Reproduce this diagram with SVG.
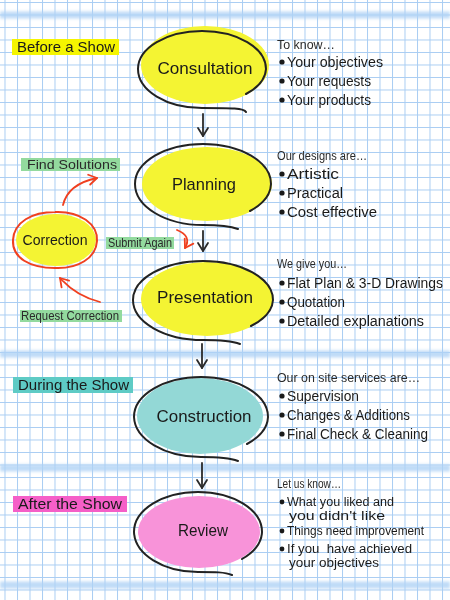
<svg xmlns="http://www.w3.org/2000/svg" width="450" height="600" viewBox="0 0 450 600">
<defs>
<pattern id="grid" width="12.5" height="12.5" patternUnits="userSpaceOnUse" x="4.5" y="2">
<path d="M0 0.5 H12.5 M0.5 0 V12.5" fill="none" stroke="#a9cdf3" stroke-width="1"/>
</pattern>
<filter id="blur" x="-5%" y="-100%" width="110%" height="300%"><feGaussianBlur stdDeviation="1.4"/></filter>
<marker id="bk" viewBox="-10 -7 12 14" markerWidth="12" markerHeight="14" refX="0" refY="0" orient="auto" markerUnits="userSpaceOnUse">
<path d="M-8 -5 L0 0 L-8 5" fill="none" stroke="#2a2a2a" stroke-width="1.8" stroke-linecap="round" stroke-linejoin="round"/>
</marker>
<marker id="rd" viewBox="-10 -7 12 14" markerWidth="12" markerHeight="14" refX="0" refY="0" orient="auto" markerUnits="userSpaceOnUse">
<path d="M-8 -5 L0 0 L-8 5" fill="none" stroke="#f04020" stroke-width="1.8" stroke-linecap="round" stroke-linejoin="round"/>
</marker>
</defs>
<style>
.t{font-family:"Liberation Sans",Arial,sans-serif;fill:#1a1a1a}
.nt{font-size:17px}
.hd{font-size:12px;fill:#2a2a2a}
.it{font-size:14px}
.sm{font-size:12.5px}
.lb{font-size:15px}
.gl{font-size:13px;fill:#2a2a2a}
.ol{fill:none;stroke:#222;stroke-width:2;stroke-linecap:round}
.yl{fill:#f4f433}
.band{stroke:#b0d2f6;stroke-width:7;opacity:0.8}
.bul{fill:#1a1a1a}
.ar{fill:none;stroke:#2a2a2a;stroke-width:1.8;stroke-linecap:round}
.ra{fill:none;stroke:#f04020;stroke-width:1.8;stroke-linecap:round}
</style>
<rect width="450" height="600" fill="#ffffff"/>
<rect width="450" height="600" fill="url(#grid)"/>
<g filter="url(#blur)">
<line class="band" x1="0" y1="15" x2="450" y2="15"/>
<line class="band" x1="0" y1="354" x2="450" y2="354"/>
<line class="band" x1="0" y1="468" x2="450" y2="468"/>
<line class="band" x1="0" y1="585" x2="450" y2="585"/>
</g>

<g id="label-before">
<rect x="12" y="39" width="107" height="16" fill="#f5f500"/>
<text class="t lb" x="17" y="52" textLength="98" lengthAdjust="spacingAndGlyphs">Before a Show</text>
</g>
<g id="label-during">
<rect x="13" y="377" width="120" height="16" fill="#5ecbc5"/>
<text class="t lb" x="18" y="390" textLength="111" lengthAdjust="spacingAndGlyphs">During the Show</text>
</g>
<g id="label-after">
<rect x="13" y="496" width="114" height="16" fill="#f55fc8"/>
<text class="t lb" x="18" y="509" textLength="104" lengthAdjust="spacingAndGlyphs">After the Show</text>
</g>

<g id="consultation">
<ellipse class="yl" cx="205" cy="65" rx="64" ry="39"/>
<path class="ol" d="M246 112 C244 108 232 108 202 108 A64 39 0 0 1 138 69 A64 38 0 0 1 266 69 A62 36 0 0 1 246 94"/>
<text class="t nt" x="205" y="74" text-anchor="middle" textLength="95" lengthAdjust="spacingAndGlyphs">Consultation</text>
</g>
<g id="planning">
<ellipse class="yl" cx="207" cy="184" rx="65" ry="37"/>
<path class="ol" d="M238 229 C230 226 220 225 203 225 A68 41 0 0 1 135 184 A68 40 0 0 1 271 184 A66 38 0 0 1 250 211"/>
<text class="t nt" x="204" y="190" text-anchor="middle" textLength="64" lengthAdjust="spacingAndGlyphs">Planning</text>
</g>
<g id="presentation">
<ellipse class="yl" cx="207" cy="299" rx="66" ry="37"/>
<path class="ol" d="M240 344 C232 341 220 340 203 340 A70 40 0 0 1 133 300 A70 39 0 0 1 273 300 A68 37 0 0 1 251 326"/>
<text class="t nt" x="205" y="303" text-anchor="middle" textLength="96" lengthAdjust="spacingAndGlyphs">Presentation</text>
</g>
<g id="construction">
<ellipse cx="200" cy="416" rx="63" ry="38" fill="#93d8d6"/>
<path class="ol" d="M238 461 C230 458 218 457 201 457 A67 41 0 0 1 134 417 A67 40 0 0 1 268 417 A65 38 0 0 1 247 444"/>
<text class="t nt" x="204" y="422" text-anchor="middle" textLength="95" lengthAdjust="spacingAndGlyphs">Construction</text>
</g>
<g id="review">
<ellipse cx="199" cy="532" rx="61" ry="36" fill="#f893d9"/>
<path class="ol" d="M232 575 C225 572 215 572 198 572 A64 41 0 0 1 134 532 A64 40 0 0 1 262 532 A62 38 0 0 1 242 559"/>
<text class="t nt" x="203" y="536" text-anchor="middle" textLength="50" lengthAdjust="spacingAndGlyphs">Review</text>
</g>
<g id="correction">
<ellipse class="yl" cx="56" cy="240" rx="40" ry="26"/>
<path d="M55 212 C80 211 98 224 97 241 C96 258 78 269 55 268 C30 268 12 258 13 240 C14 222 32 212 55 212 Z" fill="none" stroke="#f04020" stroke-width="2"/>
<text class="t" x="55" y="245" font-size="14" text-anchor="middle" textLength="65" lengthAdjust="spacingAndGlyphs">Correction</text>
</g>

<g id="connectors">
<line class="ar" x1="203" y1="114" x2="203" y2="136" marker-end="url(#bk)"/>
<line class="ar" x1="203" y1="231" x2="203" y2="251" marker-end="url(#bk)"/>
<line class="ar" x1="202" y1="344" x2="202" y2="368" marker-end="url(#bk)"/>
<line class="ar" x1="202" y1="463" x2="202" y2="488" marker-end="url(#bk)"/>
<path class="ra" d="M63 205 Q68 184 97 178" marker-end="url(#rd)"/>
<path class="ra" d="M100 302 Q76 296 60 278" marker-end="url(#rd)"/>
<path class="ra" d="M177 230 Q192 236 185 248" marker-end="url(#rd)"/>
</g>

<g id="label-find">
<rect x="21" y="158" width="99" height="13" fill="#93da9e"/>
<text class="t gl" x="27" y="169" textLength="90" lengthAdjust="spacingAndGlyphs">Find Solutions</text>
</g>
<g id="label-submit">
<rect x="106" y="237" width="68" height="12" fill="#93da9e"/>
<text class="t gl" x="108" y="247" font-size="12" textLength="64" lengthAdjust="spacingAndGlyphs">Submit Again</text>
</g>
<g id="label-request">
<rect x="20" y="310" width="102" height="12" fill="#93da9e"/>
<text class="t gl" x="21" y="320" font-size="12" textLength="98" lengthAdjust="spacingAndGlyphs">Request Correction</text>
</g>

<g id="info-consultation">
<text class="t hd" x="277" y="49" textLength="58" lengthAdjust="spacingAndGlyphs">To know…</text>
<circle class="bul" cx="282" cy="62" r="2.6"/><text class="t it" x="287" y="67" textLength="96" lengthAdjust="spacingAndGlyphs">Your objectives</text>
<circle class="bul" cx="282" cy="81" r="2.6"/><text class="t it" x="287" y="86" textLength="84" lengthAdjust="spacingAndGlyphs">Your requests</text>
<circle class="bul" cx="282" cy="100" r="2.6"/><text class="t it" x="287" y="105" textLength="84" lengthAdjust="spacingAndGlyphs">Your products</text>
</g>
<g id="info-planning">
<text class="t hd" x="277" y="160" textLength="90" lengthAdjust="spacingAndGlyphs">Our designs are…</text>
<circle class="bul" cx="282" cy="174" r="2.6"/><text class="t it" x="287" y="179" textLength="52" lengthAdjust="spacingAndGlyphs">Artistic</text>
<circle class="bul" cx="282" cy="193" r="2.6"/><text class="t it" x="287" y="198" textLength="56" lengthAdjust="spacingAndGlyphs">Practical</text>
<circle class="bul" cx="282" cy="212" r="2.6"/><text class="t it" x="287" y="217" textLength="90" lengthAdjust="spacingAndGlyphs">Cost effective</text>
</g>
<g id="info-presentation">
<text class="t hd" x="277" y="268" textLength="70" lengthAdjust="spacingAndGlyphs">We give you…</text>
<circle class="bul" cx="282" cy="283" r="2.6"/><text class="t it" x="287" y="288" textLength="156" lengthAdjust="spacingAndGlyphs">Flat Plan &amp; 3-D Drawings</text>
<circle class="bul" cx="282" cy="302" r="2.6"/><text class="t it" x="287" y="307" textLength="58" lengthAdjust="spacingAndGlyphs">Quotation</text>
<circle class="bul" cx="282" cy="321" r="2.6"/><text class="t it" x="287" y="326" textLength="137" lengthAdjust="spacingAndGlyphs">Detailed explanations</text>
</g>
<g id="info-construction">
<text class="t hd" x="277" y="382" textLength="143" lengthAdjust="spacingAndGlyphs">Our on site services are…</text>
<circle class="bul" cx="282" cy="396" r="2.6"/><text class="t it" x="287" y="401" textLength="72" lengthAdjust="spacingAndGlyphs">Supervision</text>
<circle class="bul" cx="282" cy="415" r="2.6"/><text class="t it" x="287" y="420" textLength="123" lengthAdjust="spacingAndGlyphs">Changes &amp; Additions</text>
<circle class="bul" cx="282" cy="434" r="2.6"/><text class="t it" x="287" y="439" textLength="141" lengthAdjust="spacingAndGlyphs">Final Check &amp; Cleaning</text>
</g>
<g id="info-review">
<text class="t hd" x="277" y="488" textLength="64" lengthAdjust="spacingAndGlyphs">Let us know…</text>
<circle class="bul" cx="282" cy="502" r="2.4"/><text class="t sm" x="287" y="506" textLength="107" lengthAdjust="spacingAndGlyphs">What you liked and</text>
<text class="t sm" x="289" y="520" textLength="96" lengthAdjust="spacingAndGlyphs">you didn't like</text>
<circle class="bul" cx="282" cy="531" r="2.4"/><text class="t sm" x="287" y="535" textLength="137" lengthAdjust="spacingAndGlyphs">Things need improvement</text>
<circle class="bul" cx="282" cy="549" r="2.4"/><text class="t sm" x="287" y="553" textLength="125" lengthAdjust="spacingAndGlyphs" xml:space="preserve">If you  have achieved</text>
<text class="t sm" x="289" y="567" textLength="90" lengthAdjust="spacingAndGlyphs">your objectives</text>
</g>
</svg>
